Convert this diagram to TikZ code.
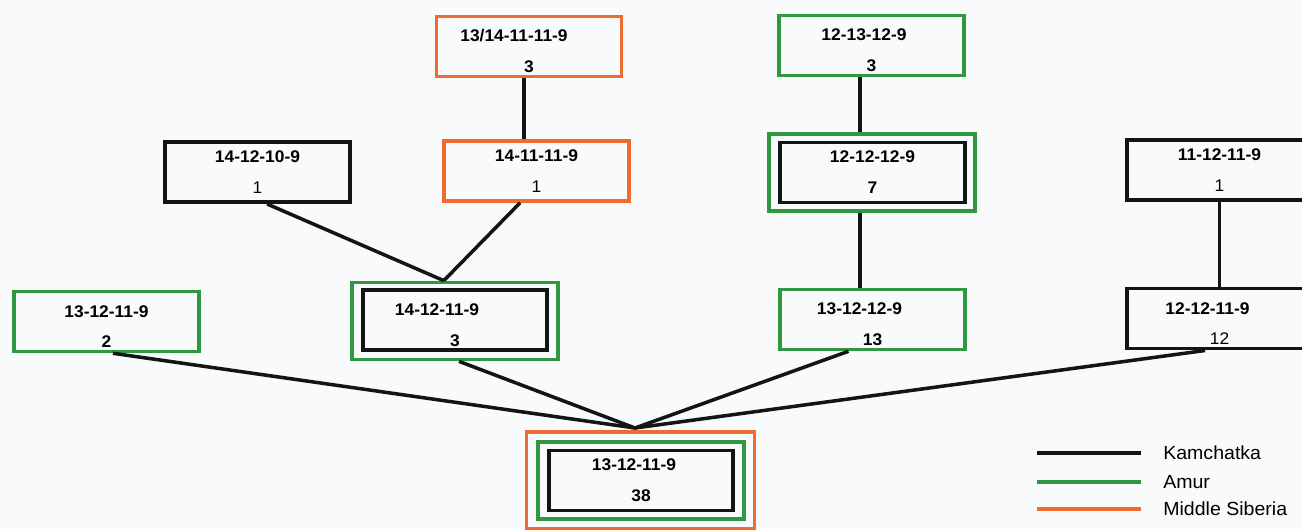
\documentclass[tikz,border=0pt]{standalone}
\usepackage{fontspec}
\setmainfont{Liberation Sans}[FakeStretch=1.03]
\usetikzlibrary{calc}

\definecolor{kam}{RGB}{20,20,20}
\definecolor{amur}{RGB}{48,152,64}
\definecolor{siberia}{RGB}{238,108,46}
\definecolor{paper}{RGB}{248,250,251}
\newcommand{\pair}[3][0pt]{\textbf{#2}\hspace*{#1}\\#3}
\newcommand{\lowpair}[3][0pt]{\rule{0pt}{15.6pt}\textbf{#2}\hspace*{#1}\\#3}

\begin{document}
\begin{tikzpicture}[x=0.025cm, y=-0.025cm,
        box/.style={line width=2.5pt, minimum width=4.62cm, minimum height=1.5cm,
            inner sep=0pt, align=center, font=\fontsize{12}{22}\selectfont},
        kbox/.style={box, draw=kam, line width=2.8pt},
        abox/.style={box, draw=amur},
        mbox/.style={box, draw=siberia},
        ring/.style={abox, minimum width=5.15cm, minimum height=1.93cm},
        link/.style={kam, line width=2.5pt},
        key/.style={anchor=west, inner sep=0pt, text height=9.5pt, text depth=0pt,
            font=\fontsize{13.5}{16}\selectfont}]
            \useasboundingbox (0,0) rectangle (1302,529);
            \fill[paper] (0,0) rectangle (1302,529);

            % top row
            \node[mbox] (t1) at (529,46.5) {\lowpair[0.75cm]{13/14-11-11-9}{\textbf{3}}};
            \node[abox] (t2) at (871.5,45.5) {\lowpair[0.375cm]{12-13-12-9}{\textbf{3}}};

            % middle row
            \node[kbox] (m1) at (257.5,172) {\pair{14-12-10-9}{1}};
            \node[mbox] (m2) at (536.5,171) {\pair{14-11-11-9}{1}};
            \node[ring] (m3o) at (872,172.5) {};
            \node[kbox] (m3) at (872.5,172.5) {\pair{12-12-12-9}{\textbf{7}}};
            \node[kbox] (m4) at (1219.5,170) {\pair{11-12-11-9}{1}};

            % lower row
            \node[abox] (b1) at (106.5,321.5) {\lowpair{13-12-11-9}{\textbf{2}}};
            \node[ring] (b2o) at (455,321) {};
            \node[kbox] (b2) at (455,320) {\lowpair[0.9cm]{14-12-11-9}{\textbf{3}}};
            \node[abox] (b3) at (872.5,319.5) {\lowpair[0.65cm]{13-12-12-9}{\textbf{13}}};
            \node[kbox] (b4) at (1219.5,318.5) {\lowpair[0.6cm]{12-12-11-9}{12}};

            % root
            \node[mbox, minimum width=5.7cm, minimum height=2.42cm] (rooto) at (640.5,480.5) {};
            \node[ring] (rootm) at (641,480.5) {};
            \node[kbox] (root) at (641,480.5) {\pair[0.35cm]{13-12-11-9}{\textbf{38}}};
            \coordinate (hub) at (635,428);

            \draw[link] ([xshift=-0.12cm]t1.south) -- ([xshift=-0.12cm]t1.south |- m2.north);
            \draw[link] ([xshift=-0.29cm]t2.south) -- ([xshift=-0.29cm]t2.south |- m3o.north);
            \draw[link] ([xshift=-0.3cm]m3o.south) -- ([xshift=-0.3cm]m3o.south |- b3.north);
            \draw[link] (m4.south) -- (b4.north);
            \draw[link] ([xshift=0.24cm]m1.south) -- ([xshift=-0.28cm]b2o.north);
            \draw[link] ([xshift=-0.41cm]m2.south) -- ([xshift=-0.28cm]b2o.north);
            \draw[link] ([xshift=0.16cm]b1.south) -- (hub);
            \draw[link] ([xshift=0.1cm]b2o.south) -- (hub);
            \draw[link] ([xshift=-0.6cm]b3.south) -- (hub);
            \draw[link] ([xshift=-0.36cm]b4.south) -- (hub);

            % legend
            \node[key] (kk) at (1163,453) {Kamchatka};
            \node[key] (ka) at (1163,482) {Amur};
            \node[key] (km) at (1163,509) {Middle Siberia};
            \draw[kam, line width=2.6pt] ([xshift=-0.55cm]kk.west) -- ++(-2.6cm,0);
            \draw[amur, line width=2.4pt] ([xshift=-0.55cm]ka.west) -- ++(-2.6cm,0);
            \draw[siberia, line width=2.6pt] ([xshift=-0.55cm]km.west) -- ++(-2.6cm,0);
        \end{tikzpicture}
\end{document}
